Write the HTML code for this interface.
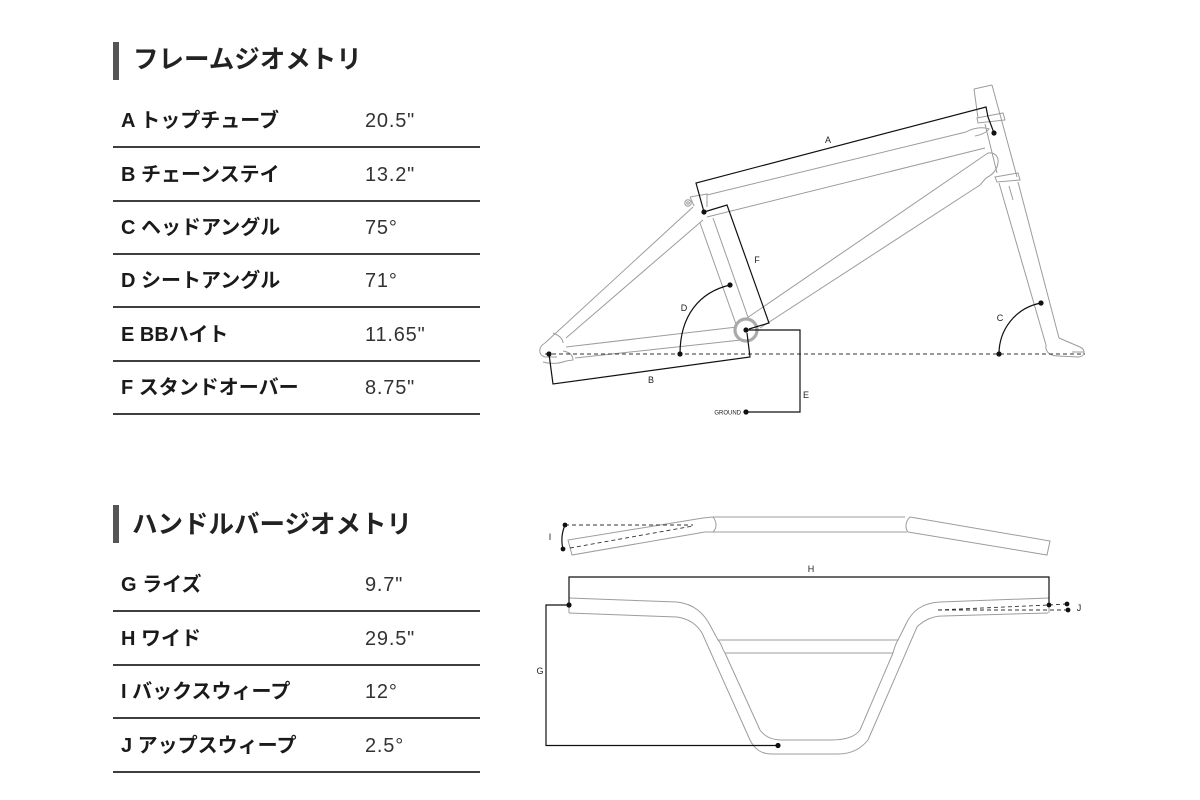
<!DOCTYPE html>
<html><head><meta charset="utf-8">
<style>
html,body{margin:0;padding:0;background:#fff;}
svg{display:block;}
.h{font-family:"Liberation Sans","Noto Sans CJK JP",sans-serif;font-weight:bold;font-size:25.5px;fill:#222;}
.l{font-family:"Liberation Sans","Noto Sans CJK JP",sans-serif;font-weight:bold;font-size:20px;fill:#1a1a1a;}
.v{font-family:"Liberation Sans","Noto Sans CJK JP",sans-serif;font-size:20px;fill:#333;letter-spacing:0.8px;}
.d{font-family:"Liberation Sans",sans-serif;font-size:9px;fill:#222;}
.g{fill:none;stroke:#9c9c9c;stroke-width:1;}
.k{fill:none;stroke:#111;stroke-width:1.2;}
.ds{fill:none;stroke:#333;stroke-width:0.9;stroke-dasharray:4 3;}
.tl{stroke:#222;stroke-width:1.8;}
</style></head>
<body>
<svg width="1200" height="800" viewBox="0 0 1200 800" xmlns="http://www.w3.org/2000/svg">
<!-- Frame geometry table -->
<rect x="113" y="42" width="6" height="38" fill="#555"/>
<text class="h" x="133" y="68">フレームジオメトリ</text>
<text class="l" x="121" y="127">A トップチューブ</text><text class="v" x="365" y="127">20.5"</text>
<line class="tl" x1="113" y1="147" x2="480" y2="147"/>
<text class="l" x="121" y="181">B チェーンステイ</text><text class="v" x="365" y="181">13.2"</text>
<line class="tl" x1="113" y1="201" x2="480" y2="201"/>
<text class="l" x="121" y="234">C ヘッドアングル</text><text class="v" x="365" y="234">75°</text>
<line class="tl" x1="113" y1="254" x2="480" y2="254"/>
<text class="l" x="121" y="287">D シートアングル</text><text class="v" x="365" y="287">71°</text>
<line class="tl" x1="113" y1="307" x2="480" y2="307"/>
<text class="l" x="121" y="341">E BBハイト</text><text class="v" x="365" y="341">11.65"</text>
<line class="tl" x1="113" y1="361" x2="480" y2="361"/>
<text class="l" x="121" y="394">F スタンドオーバー</text><text class="v" x="365" y="394">8.75"</text>
<line class="tl" x1="113" y1="414" x2="480" y2="414"/>

<!-- Handlebar table -->
<rect x="113" y="505" width="6" height="38" fill="#555"/>
<text class="h" x="132" y="533">ハンドルバージオメトリ</text>
<text class="l" x="121" y="591">G ライズ</text><text class="v" x="365" y="591">9.7"</text>
<line class="tl" x1="113" y1="611" x2="480" y2="611"/>
<text class="l" x="121" y="645">H ワイド</text><text class="v" x="365" y="645">29.5"</text>
<line class="tl" x1="113" y1="665" x2="480" y2="665"/>
<text class="l" x="121" y="698">I バックスウィープ</text><text class="v" x="365" y="698">12°</text>
<line class="tl" x1="113" y1="718" x2="480" y2="718"/>
<text class="l" x="121" y="752">J アップスウィープ</text><text class="v" x="365" y="752">2.5°</text>
<line class="tl" x1="113" y1="772" x2="480" y2="772"/>

<!-- ===== FRAME ===== -->
<g class="g">
  <!-- top tube -->
  <path d="M707,195 L966,132"/>
  <path d="M707,217 L985,148"/>
  <!-- top gusset -->
  <path d="M966,132 C975,127 984,127 989,129 C986,133 980,135 975,136"/>
  <!-- down tube -->
  <path d="M747,318 L988,153"/>
  <path d="M760,328 L980,185"/>
  <path d="M988,153 C995,152 999,157 998,163 C997,170 992,175 986,178 L980,185"/>
  <!-- head tube -->
  <path d="M974,89 L992,85"/>
  <path d="M974,89 L978,118"/>
  <path d="M992,85 L1017,177"/>
  <path d="M985,124 L997,173"/>
  <path d="M977,118 L1003,113 L1005,120 L978,123 Z"/>
  <path d="M995,177 L1018,173 L1020,180 L997,182 Z"/>
  <!-- fork -->
  <path d="M999,183 L1046,345"/>
  <path d="M1018,182 L1059,338"/>
  <path d="M1009,186 L1013,200"/>
  <path d="M1059,338 L1080,347 C1086,350 1085,356 1079,357 L1058,356 C1049,356 1045,351 1046,345"/>
  <path d="M1084,352 L1072,352"/>
  <!-- seat tube -->
  <path d="M700,223 L737,327"/>
  <path d="M713,218 L749,320"/>
  <path d="M690,197 L707,194 L707,207"/>
  <path d="M690,197 L694,206"/>
  <circle cx="688" cy="203" r="3.2"/>
  <circle cx="688" cy="203" r="1.3"/>
  <!-- seat stays -->
  <path d="M693,207 L545,343"/>
  <path d="M703,220 L566,338"/>
  <path d="M553,333 C558,335 563,338 563,343"/>
  <!-- chain stays -->
  <path d="M737,327 L566,347"/>
  <path d="M741,340 L575,358"/>
  <path d="M563,351 C569,352 573,355 573,360 L566,361"/>
  <!-- rear dropout -->
  <path d="M545,343 C538,347 538,355 545,357 L557,357"/>
  <path d="M543,362 C550,364 558,364 566,361"/>
</g>
<!-- BB shell -->
<circle cx="746" cy="330" r="11" fill="none" stroke="#aaa" stroke-width="3.2"/>
<!-- ground line -->
<line class="ds" x1="545" y1="354" x2="1085" y2="354"/>
<!-- dimension lines -->
<g class="k">
  <path d="M704,212 L696,183 L986,107 L988,117 L994,133"/>
  <path d="M704,212 L727,205 L769,323 L749,329"/>
  <path d="M549,354 L553,384 L750,357 L747,333"/>
  <path d="M746,330 H800 V412 H746"/>
  <path d="M730,285 C700,292 680,315 680,354"/>
  <path d="M1041,303 C1015,308 999,330 999,354"/>
</g>
<g fill="#111">
  <circle cx="549" cy="354" r="2.6"/>
  <circle cx="704" cy="212" r="2.6"/>
  <circle cx="994" cy="133" r="2.6"/>
  <circle cx="746" cy="330" r="2.6"/>
  <circle cx="730" cy="285" r="2.6"/>
  <circle cx="680" cy="354" r="2.6"/>
  <circle cx="1041" cy="303" r="2.6"/>
  <circle cx="999" cy="354" r="2.6"/>
  <circle cx="746" cy="412" r="2.6"/>
</g>
<text class="d" x="828" y="143" text-anchor="middle">A</text>
<text class="d" x="651" y="383" text-anchor="middle">B</text>
<text class="d" x="1000" y="321" text-anchor="middle">C</text>
<text class="d" x="684" y="311" text-anchor="middle">D</text>
<text class="d" x="806" y="398" text-anchor="middle">E</text>
<text class="d" x="757" y="263" text-anchor="middle">F</text>
<text x="741" y="414.5" text-anchor="end" font-family="Liberation Sans, sans-serif" font-size="6" fill="#222">GROUND</text>

<!-- ===== HANDLEBAR TOP VIEW ===== -->
<g class="g">
  <path d="M713,517 H905"/>
  <path d="M705,532 H907"/>
  <path d="M713,517 C717,522 717,528 713,532"/>
  <path d="M910,517 C905,522 905,528 908,532"/>
  <path d="M713,517 L703,518 L568,540 L572,555 L705,532"/>
  <path d="M910,517 L1050,541 L1047,555 L908,532"/>
</g>
<g class="k">
  <path d="M565,525 Q560,537 563,549"/>
</g>
<line class="ds" x1="565" y1="525" x2="693" y2="525"/>
<line class="ds" x1="570" y1="548" x2="693" y2="526"/>
<circle cx="565" cy="525" r="2.4" fill="#111"/>
<circle cx="563" cy="549" r="2.4" fill="#111"/>
<text class="d" x="550" y="540" text-anchor="middle">I</text>

<!-- ===== HANDLEBAR FRONT VIEW ===== -->
<g class="g">
  <path d="M569,598 L677,602 C694,604 704,613 711,627 L718,640 C722,644 722,649 725,653"/>
  <path d="M718,640 H898 C895,645 894,649 893,653 H725"/>
  <path d="M725,653 L760,730 C765,737 772,740 782,740 H831 C845,740 855,737 860,730 L893,653"/>
  <path d="M898,640 L906,624 C912,611 922,603 940,602 L1049,598"/>
  <path d="M569,613 L677,617 C690,619 697,625 702,633 L750,740 C755,750 762,754 772,754 H838 C850,754 860,750 868,740 L917,627 C924,620 933,616 943,616 L1048,613"/>
  <path d="M569,598 V613"/>
  <path d="M1049,598 V613"/>
</g>
<g class="k">
  <path d="M569,605 V577 H1049 V605"/>
  <path d="M569,605 H546 V745.5 H778"/>
</g>
<line class="ds" x1="1049" y1="605" x2="1067" y2="604"/>
<line class="ds" x1="938" y1="610" x2="1068" y2="610"/>
<line class="ds" x1="938" y1="610" x2="1049" y2="605"/>
<g fill="#111">
  <circle cx="569" cy="605" r="2.6"/>
  <circle cx="1049" cy="605" r="2.4"/>
  <circle cx="778" cy="745.5" r="2.6"/>
  <circle cx="1067" cy="604" r="2.4"/>
  <circle cx="1068" cy="610" r="2.4"/>
</g>
<text class="d" x="811" y="572" text-anchor="middle">H</text>
<text class="d" x="540" y="674" text-anchor="middle">G</text>
<text class="d" x="1079" y="611" text-anchor="middle">J</text>
</svg>
</body></html>
